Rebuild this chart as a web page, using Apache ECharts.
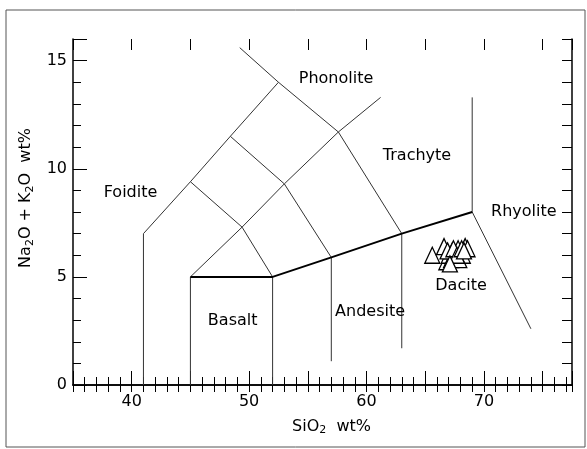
<!DOCTYPE html>
<html>
<head>
<meta charset="utf-8">
<script src="https://cdn.jsdelivr.net/npm/echarts@6.0.0/dist/echarts.min.js"></script>
<style>
  html, body { margin: 0; padding: 0; background: #fff; }
  #chart { width: 587px; height: 449px; }
</style>
</head>
<body>
<div id="chart"></div>
<script>
// TAS diagram field boundaries (SiO2, Na2O+K2O)
var foiditeLine   = [[41, 0], [41, 7], [45, 9.4], [48.4, 11.5], [52.5, 14], [49.2, 15.6]];
var basaltLeft    = [[45, 0], [45, 5]];
var basaltRight   = [[52, 0], [52, 5]];
var andesiteLeft  = [[57, 1.1], [57, 5.9]];
var andesiteRight = [[63, 1.7], [63, 7]];
var alkalineLine  = [[45, 5], [52, 5], [57, 5.9], [63, 7], [69, 8]];
var diagonalA     = [[45, 5], [49.4, 7.3], [53, 9.3], [57.6, 11.7], [61.2, 13.3]];
var diagonalB     = [[45, 9.4], [49.4, 7.3], [52, 5]];
var diagonalC     = [[48.4, 11.5], [53, 9.3], [57, 5.9]];
var diagonalD     = [[52.5, 14], [57.6, 11.7], [63, 7]];
var rhyoliteTop   = [[69, 8], [69, 13.3]];
var rhyoliteSide  = [[69, 8], [74, 2.6]];

// field names and where they sit
var fieldNames = ['Phonolite', 'Trachyte', 'Foidite', 'Rhyolite', 'Dacite', 'Andesite', 'Basalt'];
var fieldPos   = [[57.4, 14.15], [64.3, 10.6], [39.9, 8.9], [73.4, 8.0], [68.05, 4.6], [60.3, 3.4], [48.6, 2.95]];

// samples
var samples = [
    [65.6, 6.0], [66.6, 6.4], [66.8, 5.7], [67.0, 6.0], [67.3, 6.2],
    [67.5, 5.9], [67.6, 6.1], [67.8, 6.3], [68.0, 6.1], [68.2, 6.0],
    [68.4, 6.4], [68.6, 6.3], [67.2, 5.8], [67.9, 5.8], [66.9, 6.2],
    [67.4, 6.3], [67.7, 6.0], [68.1, 6.3], [68.3, 6.2], [67.1, 5.6]
];

var xMin = 35, xMax = 77.5, yMin = 0, yMax = 16;
var font = 'DejaVu Sans';

function thin(d) {
    return {
        type: 'line', data: d, symbol: 'none', silent: true,
        lineStyle: {color: '#333', width: 1}, z: 2
    };
}

var series = [
    thin(foiditeLine), thin(basaltLeft), thin(basaltRight), thin(andesiteLeft),
    thin(andesiteRight), thin(diagonalA), thin(diagonalB), thin(diagonalC),
    thin(diagonalD), thin(rhyoliteTop), thin(rhyoliteSide),
    {
        type: 'line', data: alkalineLine, symbol: 'none', silent: true,
        lineStyle: {color: '#000', width: 2}, z: 3
    },
    {
        type: 'scatter', symbol: 'triangle', symbolSize: [15, 16], data: samples,
        itemStyle: {color: '#fff', borderColor: '#000', borderWidth: 1.3, opacity: 1}, z: 5
    },
    {
        // field names, placed through the axes
        type: 'custom', silent: true, z: 6,
        data: fieldPos.map(function (p, i) { return [p[0], p[1], i]; }),
        renderItem: function (params, api) {
            var pt = api.coord([api.value(0), api.value(1)]);
            return {
                type: 'text', x: pt[0], y: pt[1],
                style: {
                    text: fieldNames[api.value(2)], fill: '#000',
                    font: '16px "' + font + '"', align: 'center', verticalAlign: 'middle'
                }
            };
        }
    }
];

function xAx(pos, step, len, line, labels) {
    return {
        type: 'value', position: pos, min: xMin, max: xMax, interval: step,
        axisLine: {show: line, lineStyle: {color: '#000', width: 1.5}},
        axisTick: {show: true, inside: true, length: len, lineStyle: {color: '#000', width: 1}},
        axisLabel: labels ? {
            show: true, margin: 9, color: '#000', fontFamily: font, fontSize: 16,
            formatter: function (v) { return v % 10 === 0 ? v : ''; }
        } : {show: false},
        splitLine: {show: false}
    };
}

function yAx(pos, step, len, line, labels) {
    return {
        type: 'value', position: pos, min: yMin, max: yMax, interval: step,
        axisLine: {show: line, lineStyle: {color: '#000', width: 1.5}},
        axisTick: {show: true, inside: true, length: len, lineStyle: {color: '#000', width: 1}},
        axisLabel: labels ? {
            show: true, margin: 6, color: '#000', fontFamily: font, fontSize: 16,
            formatter: function (v) { return v % 5 === 0 ? v : ''; }
        } : {show: false},
        splitLine: {show: false}
    };
}

var xBottom = xAx('bottom', 5, 14, false, true);
xBottom.name = 'SiO{s|2}  wt%';
xBottom.nameLocation = 'middle';
xBottom.nameGap = 32;
xBottom.nameTextStyle = {
    color: '#000', fontFamily: font, fontSize: 16, padding: [0, 0, 0, 18],
    rich: {s: {fontFamily: font, fontSize: 11, padding: [8, 0, 0, 0], color: '#000'}}
};

var yLeft = yAx('left', 5, 14, false, true);
yLeft.name = 'Na{s|2}O + K{s|2}O  wt%';
yLeft.nameLocation = 'middle';
yLeft.nameGap = 28;
yLeft.nameTextStyle = {
    color: '#000', fontFamily: font, fontSize: 16, padding: [0, 0, 0, 28],
    rich: {s: {fontFamily: font, fontSize: 11, padding: [8, 0, 0, 0], color: '#000'}}
};

var myChart = echarts.init(document.getElementById('chart'));
myChart.setOption({
    animation: false,
    backgroundColor: '#fff',
    grid: {left: 73, right: 15, top: 39, bottom: 64},
    graphic: [{
        type: 'rect', shape: {x: 6, y: 10, width: 579, height: 437},
        style: {fill: 'none', stroke: '#555', lineWidth: 1}, silent: true, z: -1
    }],
    xAxis: [
        xAx('bottom', 1, 8, true, false),
        xBottom,
        xAx('top', 1, 7, true, false),
        xAx('top', 5, 11, false, false)
    ],
    yAxis: [
        yAx('left', 1, 8, true, false),
        yLeft,
        yAx('right', 1, 10, true, false)
    ],
    series: series
});
</script>
</body>
</html>
